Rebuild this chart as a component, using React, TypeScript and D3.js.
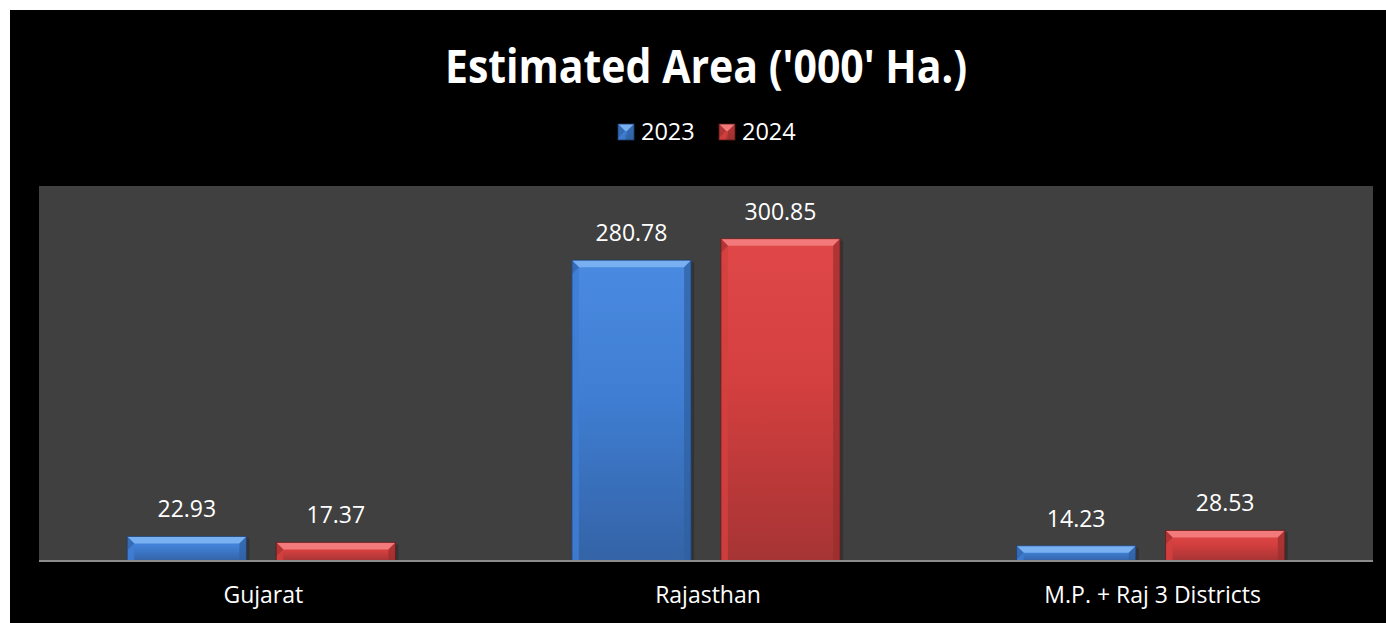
import * as d3 from 'd3';

const categories = ['Gujarat', 'Rajasthan', 'M.P. + Raj 3 Districts'];
const seriesNames = ['2023', '2024'];
const values2023 = [22.93, 280.78, 14.23];
const values2024 = [17.37, 300.85, 28.53];

const W = 1386;
const H = 623;
const plot = { left: 39, right: 1373, top: 186, bottom: 561 };

const palette: Record<string, { top: string; mid: string; bot: string; bevel: string; side: string; edge: string }> = {
  '2023': { top: '#4a8ae0', mid: '#3f7ed3', bot: '#3463a6', bevel: '#79b0f2', side: '#2f5f9f', edge: '#1d3d6b' },
  '2024': { top: '#e04848', mid: '#d43f3f', bot: '#a63434', bevel: '#f27a7a', side: '#9a2e2e', edge: '#5e1a1a' },
};

const Bar = ({ x, y, w, h, s }: { x: number; y: number; w: number; h: number; s: string }) => {
  const c = palette[s];
  const b = Math.min(7, h / 2, w / 2);
  const x1 = x + w;
  const yb = y + h;
  return (
    <g>
      <rect x={x + 3} y={y + 2} width={w} height={h - 2} fill="#000" opacity={0.2} />
      <rect x={x} y={y} width={w} height={h} fill={`url(#grad-${s})`} />
      <polygon points={`${x},${y} ${x1},${y} ${x1 - b},${y + b} ${x + b},${y + b}`} fill={c.bevel} />
      <polygon points={`${x},${y} ${x + b},${y + b} ${x + b},${yb} ${x},${yb}`} fill={c.mid} opacity={0.85} />
      <polygon points={`${x},${y} ${x + b},${y + b} ${x},${y + b * 2}`} fill={c.side} opacity={0.6} />
      <polygon points={`${x1},${y} ${x1 - b},${y + b} ${x1 - b},${yb} ${x1},${yb}`} fill={c.side} opacity={0.7} />
      <rect x={x} y={y} width={w} height={h} fill="none" stroke={c.edge} strokeWidth={1} opacity={0.8} />
    </g>
  );
};

export default function App() {
  const x = d3.scaleBand<string>().domain(categories).range([plot.left, plot.right]);
  const xInner = d3
    .scaleBand<string>()
    .domain(seriesNames)
    .range([0, x.bandwidth()])
    .paddingInner(0.2)
    .paddingOuter(0.592);
  const y = d3.scaleLinear().domain([0, 350]).range([plot.bottom, plot.top]);

  const data = seriesNames.map((s, si) => ({
    s,
    values: si === 0 ? values2023 : values2024,
  }));

  const cx = (plot.left + plot.right) / 2;
  const legendStart = cx - 88;
  const font = '"Open Sans", "Noto Sans", sans-serif';

  return (
    <svg
      width={W}
      height={H}
      style={{ position: 'absolute', left: 0, top: 0, display: 'block' }}
      fontFamily={font}
    >
      <defs>
        {seriesNames.map((s) => (
          <linearGradient key={s} id={`grad-${s}`} x1="0" y1="0" x2="0" y2="1">
            <stop offset="0%" stopColor={palette[s].top} />
            <stop offset="45%" stopColor={palette[s].mid} />
            <stop offset="100%" stopColor={palette[s].bot} />
          </linearGradient>
        ))}
      </defs>
      <rect x={0} y={0} width={W} height={H} fill="#fff" />
      <rect x={10} y={10} width={W - 10} height={H - 10} fill="#000" />
      <rect
        x={plot.left}
        y={plot.top}
        width={plot.right - plot.left}
        height={plot.bottom - plot.top}
        fill="#404040"
      />

      {/* title */}
      <text
        x={cx}
        y={0}
        transform={`translate(0,83) scale(1,1.15)`}
        textAnchor="middle"
        fill="#fff"
        fontSize={41}
        fontWeight="bold"
      >
        Estimated Area ('000' Ha.)
      </text>

      {/* legend */}
      {seriesNames.map((s, i) => {
        const lx = legendStart + i * 101;
        return (
          <g key={s}>
            <Bar x={lx} y={124} w={16} h={16} s={s} />
            <text x={lx + 23} y={140} fill="#fff" fontSize={23.5}>
              {s}
            </text>
          </g>
        );
      })}

      {/* bars */}
      {data.map((d) =>
        d.values.map((v, i) => {
          const bx = (x(categories[i]) ?? 0) + (xInner(d.s) ?? 0);
          const by = y(v);
          return (
            <g key={`${d.s}-${i}`}>
              <Bar x={bx} y={by} w={xInner.bandwidth()} h={plot.bottom - by} s={d.s} />
              <text
                x={bx + xInner.bandwidth() / 2}
                y={by - 19}
                textAnchor="middle"
                fill="#fff"
                fontSize={23}
              >
                {v.toFixed(2)}
              </text>
            </g>
          );
        })
      )}

      {/* axis line */}
      <line x1={plot.left} x2={plot.right} y1={plot.bottom} y2={plot.bottom} stroke="#8c8c8c" strokeWidth={2} />

      {/* category labels */}
      {categories.map((c) => (
        <text
          key={c}
          x={(x(c) ?? 0) + x.bandwidth() / 2 + 2}
          y={603}
          textAnchor="middle"
          fill="#fff"
          fontSize={23}
        >
          {c}
        </text>
      ))}
    </svg>
  );
}
